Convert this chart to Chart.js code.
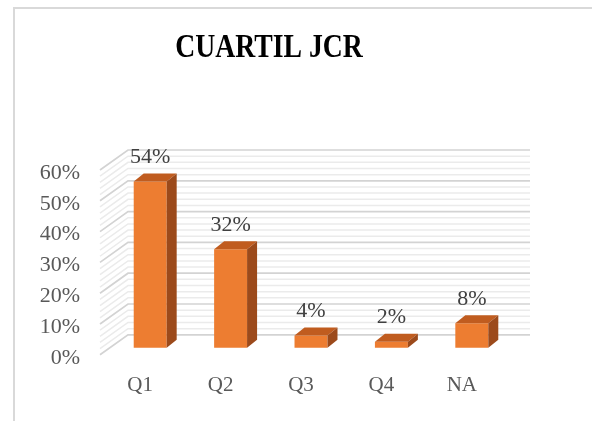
<!DOCTYPE html>
<html>
<head>
<meta charset="utf-8">
<script src="https://cdn.jsdelivr.net/npm/chart.js@4/dist/chart.umd.min.js"></script>
<style>
  html, body { margin: 0; padding: 0; background: #fff; overflow: hidden; }
  #frame { position: absolute; left: 13px; top: 7px; width: 700px; height: 600px; border: 2px solid #d9d9d9; }
  #chart { position: absolute; left: 0; top: 0; }
</style>
</head>
<body>
<div id="frame"></div>
<canvas id="chart" width="592" height="421"></canvas>
<script>
// ================= DATA =================
const categories = ["Q1", "Q2", "Q3", "Q4", "NA"];
const shares = [0.54, 0.32, 0.04, 0.02, 0.08];
const yTicks = [0, 0.1, 0.2, 0.3, 0.4, 0.5, 0.6];
const minorTicks = [0.02, 0.04, 0.06, 0.08, 0.12, 0.14, 0.16, 0.18, 0.22, 0.24, 0.26, 0.28,
                    0.32, 0.34, 0.36, 0.38, 0.42, 0.44, 0.46, 0.48, 0.52, 0.54, 0.56, 0.58];
const titleText = "CUARTIL JCR";

// ================= 3D LOOK =================
const WALL = { dx: 28, dy: -20 };      // depth of the back wall
const SHIFT = { dx: 10, dy: -7 };      // where the bars sit in depth
const DEPTH = { dx: 10, dy: -8 };      // bar thickness in depth

const FRONT = "#ED7D31";
const TOP = "#C05C1F";
const SIDE = "#9C4A1B";
const SERIF = "'Liberation Serif', 'Times New Roman', serif";

function pct(v) {
  return Math.round(v * 100) + "%";
}

// ================= WALLS =================
const wallPlugin = {
  id: "walls",
  beforeDatasetsDraw(chart) {
    const ctx = chart.ctx;
    const y = chart.scales.y;
    const { left, right } = chart.chartArea;

    function line(v, color, w) {
      const py = y.getPixelForValue(v);
      ctx.strokeStyle = color;
      ctx.lineWidth = w;
      ctx.beginPath();
      ctx.moveTo(left, py);
      ctx.lineTo(left + WALL.dx, py + WALL.dy);
      ctx.lineTo(right + WALL.dx, py + WALL.dy);
      ctx.stroke();
    }

    ctx.save();
    minorTicks.forEach(v => line(v, "#ebebeb", 1.5));
    yTicks.forEach(v => line(v, "#d3d3d3", 1.7));
    ctx.restore();

    // bars are pushed back into the box
    ctx.save();
    ctx.translate(SHIFT.dx, SHIFT.dy);
  },
  afterDatasetsDraw(chart) {
    const ctx = chart.ctx;
    ctx.restore();

    const meta = chart.getDatasetMeta(0);
    ctx.save();
    meta.data.forEach((bar, i) => {
      const p = bar.getProps(["x", "y", "base", "width"], true);
      const l = p.x - p.width / 2 + SHIFT.dx;
      const r = p.x + p.width / 2 + SHIFT.dx;
      const t = p.y + SHIFT.dy;
      const b = p.base + SHIFT.dy;

      // top face
      ctx.fillStyle = TOP;
      ctx.beginPath();
      ctx.moveTo(l, t);
      ctx.lineTo(l + DEPTH.dx, t + DEPTH.dy);
      ctx.lineTo(r + DEPTH.dx, t + DEPTH.dy);
      ctx.lineTo(r, t);
      ctx.closePath();
      ctx.fill();

      // side face
      ctx.fillStyle = SIDE;
      ctx.beginPath();
      ctx.moveTo(r, t);
      ctx.lineTo(r + DEPTH.dx, t + DEPTH.dy);
      ctx.lineTo(r + DEPTH.dx, b + DEPTH.dy);
      ctx.lineTo(r, b);
      ctx.closePath();
      ctx.fill();

      // value label
      ctx.fillStyle = "#404040";
      ctx.font = "22px " + SERIF;
      ctx.textAlign = "center";
      ctx.textBaseline = "middle";
      ctx.fillText(pct(shares[i]), (l + r) / 2, t - 24);
    });
    ctx.restore();
  },
  // title is set tall and narrow, like the original
  afterDraw(chart) {
    const ctx = chart.ctx;
    ctx.save();
    ctx.translate(269, 57);
    ctx.scale(0.84, 1);
    ctx.fillStyle = "#000";
    ctx.font = "bold 33px " + SERIF;
    ctx.textAlign = "center";
    ctx.textBaseline = "alphabetic";
    ctx.fillText(titleText, 0, 0);
    ctx.restore();
  }
};

// ================= CHART =================
new Chart(document.getElementById("chart"), {
  type: "bar",
  data: {
    labels: categories,
    datasets: [{
      data: shares,
      backgroundColor: FRONT,
      borderWidth: 0,
      categoryPercentage: 1,
      barPercentage: 0.41,
      clip: false
    }]
  },
  options: {
    responsive: false,
    animation: false,
    events: [],
    layout: { padding: { left: 36, right: 90, top: 170, bottom: 5 } },
    plugins: {
      legend: { display: false },
      tooltip: { enabled: false },
      title: { display: false }
    },
    scales: {
      x: {
        grid: { display: false, drawTicks: false },
        border: { display: false },
        ticks: { color: "#595959", font: { family: SERIF, size: 21 }, padding: 18 }
      },
      y: {
        min: 0,
        max: 0.6,
        afterFit(scale) { scale.width = 64; },
        afterBuildTicks(scale) { scale.ticks = yTicks.map(v => ({ value: v })); },
        grid: { display: false, drawTicks: false },
        border: { display: false },
        ticks: {
          color: "#595959",
          font: { family: SERIF, size: 22 },
          padding: 20,
          labelOffset: 3,
          autoSkip: false,
          callback: v => pct(v)
        }
      }
    }
  },
  plugins: [wallPlugin]
});
</script>
</body>
</html>
